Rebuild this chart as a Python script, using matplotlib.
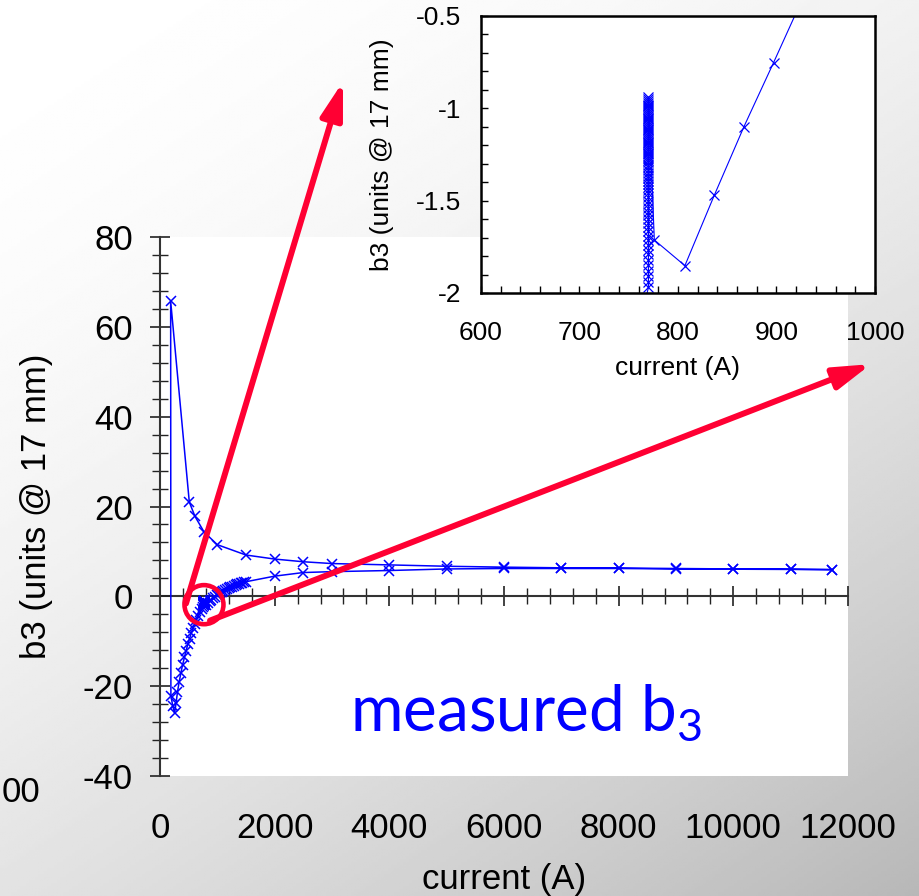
import numpy as np
import matplotlib.pyplot as plt
from matplotlib.patches import Ellipse
from matplotlib.ticker import MultipleLocator, FormatStrFormatter

plt.rcParams['font.family'] = ['Liberation Sans', 'DejaVu Sans']
plt.rcParams['axes.unicode_minus'] = False

# b3 vs current
# ramp down (upper branch), high current -> low current
down_cur = [11730, 11000, 10000, 9000, 8000, 7000, 6000, 5000, 4000, 3000,
            2500, 2000, 1500, 1000, 770, 610, 511, 186]
down_b3 = [5.95, 6.05, 6.1, 6.2, 6.3, 6.35, 6.5, 6.7, 7.0, 7.3,
           7.7, 8.3, 9.2, 11.5, 14.3, 17.8, 21.0, 65.7]

# ramp from low current up to injection
low_cur = [190, 225, 255, 280, 305, 335, 365, 395, 425, 455,
           485, 515, 545, 575, 605, 635, 665, 695, 725, 755]
low_b3 = [-22.2, -24.5, -26.0, -23.8, -21.3, -19.0, -17.0, -15.2, -13.6, -12.1,
          -10.7, -9.4, -8.2, -7.1, -6.1, -5.2, -4.3, -3.5, -2.8, -2.3]

# decay on the injection plateau (~770 A)
plat_b3 = [-1.97, -1.94, -1.91, -1.88, -1.85, -1.82, -1.79, -1.765, -1.74, -1.715,
           -1.69, -1.665, -1.64, -1.62, -1.60, -1.58, -1.56, -1.54, -1.52, -1.50,
           -1.48, -1.46, -1.44, -1.425, -1.41, -1.395, -1.38, -1.365, -1.35, -1.335,
           -1.32, -1.305, -1.29, -1.28, -1.27, -1.26, -1.25, -1.24, -1.23, -1.22,
           -1.21, -1.20, -1.19, -1.18, -1.17, -1.16, -1.15, -1.14, -1.13, -1.12,
           -1.11, -1.10, -1.09, -1.08, -1.07, -1.06, -1.05, -1.04, -1.03, -1.02,
           -1.01, -1.00, -0.99, -0.98, -0.97, -0.96, -0.95, -0.94]
plat_cur = [770] * len(plat_b3)

# ramp up (lower branch), snapback then up to flat top
up_cur = [776, 807, 837, 867, 897, 927, 957, 987, 1017, 1047,
          1077, 1107, 1137, 1167, 1197, 1227, 1257, 1287, 1317, 1347,
          1377, 1407, 1437, 1467, 1497, 2000, 2500, 3000, 4000, 5000,
          6000, 7000, 8000, 9000, 10000, 11000, 11730]
up_b3 = [-1.713, -1.852, -1.469, -1.099, -0.753, -0.40, -0.08, 0.22, 0.5, 0.76,
         1.0, 1.23, 1.45, 1.65, 1.84, 2.02, 2.19, 2.35, 2.5, 2.64,
         2.77, 2.9, 3.02, 3.13, 3.25, 4.5, 5.3, 5.5, 5.75, 6.1,
         6.2, 6.2, 6.2, 6.1, 6.05, 6.0, 5.95]

cur = down_cur + low_cur + plat_cur + up_cur
b3 = down_b3 + low_b3 + plat_b3 + up_b3

blue = '#0000ff'
red = '#ff0033'

fig = plt.figure(figsize=(9.19, 8.96), dpi=100)

# slide background, light grey gradient
bg = fig.add_axes([0, 0, 1, 1], zorder=-5)
gx, gy = np.meshgrid(np.linspace(0, 1, 300), np.linspace(0, 1, 300))
shade = 1 - 0.28 * (0.4 * gx + 0.6 * gy) ** 1.8
bg.imshow(shade, cmap='gray', vmin=0, vmax=1, aspect='auto',
          extent=[0, 1, 0, 1], origin='upper')
bg.set_xlim(0, 1)
bg.set_ylim(0, 1)
bg.axis('off')

fig.text(2 / 919, 1 - 792 / 896, '00', ha='left', va='center', fontsize=25)

# main plot
ax = fig.add_axes([0.1741, 0.1339, 0.7486, 0.6016])
ax.plot(cur, b3, color=blue, lw=1.1, marker='x', ms=7, mew=1.1, zorder=3)
ax.set_xlim(0, 12000)
ax.set_ylim(-40, 80)
for s in ['top', 'right', 'bottom']:
    ax.spines[s].set_visible(False)
ax.spines['left'].set_color('#333333')
ax.spines['left'].set_linewidth(1.5)
ax.yaxis.set_major_locator(MultipleLocator(20))
ax.yaxis.set_minor_locator(MultipleLocator(4))
ax.tick_params(axis='y', which='major', direction='inout', length=15, width=1.2,
               pad=12, labelsize=25, color='#222222')
ax.tick_params(axis='y', which='minor', direction='inout', length=11, width=1.0,
               color='#222222')
ax.set_xticks(range(0, 12001, 2000))
ax.tick_params(axis='x', length=0, pad=26, labelsize=25)
ax.set_xlabel('current (A)', fontsize=25, labelpad=13)
ax.set_ylabel('b3 (units @ 17 mm)', fontsize=25, labelpad=21)

# x axis line drawn through zero
xax0 = ax.secondary_xaxis(1 / 3)
xax0.set_xticks(range(0, 12001, 2000))
xax0.xaxis.set_minor_locator(MultipleLocator(400))
xax0.tick_params(which='major', direction='inout', length=15, width=1.2,
                 labelbottom=False, labeltop=False, color='#222222')
xax0.tick_params(which='minor', direction='inout', length=11, width=1.0,
                 color='#222222')
for s in xax0.spines.values():
    s.set_color('#333333')
    s.set_linewidth(1.5)

ax.text(0.276, 0.085, r'measured b$_\mathregular{3}$', transform=ax.transAxes,
        fontsize=46, family='Lato', color=blue, va='baseline', ha='left')

# zoom marker and arrows
ax.add_patch(Ellipse((767, -1.85), 680, 8.7, fill=False, ec=red, lw=3.3,
                     zorder=6, clip_on=False))
arrow = dict(arrowstyle='-|>,head_length=1.1,head_width=0.33', color=red, lw=4.3,
             mutation_scale=20, shrinkA=0, shrinkB=0)
ax.annotate('', xy=(3192, 114.6), xytext=(453, -1.6), arrowprops=arrow,
            annotation_clip=False, zorder=6)
ax.annotate('', xy=(12402, 51.7), xytext=(872, -5.4), arrowprops=arrow,
            annotation_clip=False, zorder=6)

# inset
ax2 = fig.add_axes([0.5234, 0.6730, 0.4287, 0.3092], zorder=3)
ax2.plot(cur, b3, color=blue, lw=0.8, marker='x', ms=6.5, mew=0.9)
ax2.set_xlim(600, 1000)
ax2.set_ylim(-2, -0.5)
for s in ax2.spines.values():
    s.set_linewidth(1.8)
    s.set_color('black')
ax2.xaxis.set_major_locator(MultipleLocator(100))
ax2.xaxis.set_minor_locator(MultipleLocator(20))
ax2.yaxis.set_major_locator(MultipleLocator(0.5))
ax2.yaxis.set_minor_locator(MultipleLocator(0.1))
ax2.yaxis.set_major_formatter(FormatStrFormatter('%g'))
ax2.tick_params(which='both', direction='in', length=5, width=1,
                top=False, right=False, labelsize=19)
ax2.tick_params(axis='x', pad=20)
ax2.tick_params(axis='y', pad=14)
ax2.set_xlabel('current (A)', fontsize=19, labelpad=8)
ax2.set_ylabel('b3 (units @ 17 mm)', fontsize=19, labelpad=16)

fig.savefig('out.png', dpi=100)
